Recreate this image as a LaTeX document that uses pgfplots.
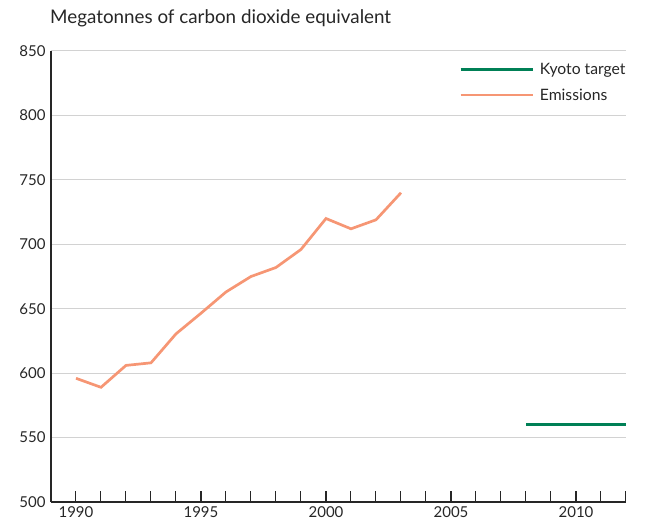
\documentclass[border=0pt]{standalone}
\usepackage{pgfplots}
\pgfplotsset{compat=1.18}
\usepackage{fontspec}
\setmainfont{Lato}
\definecolor{emis}{RGB}{246,150,116}
\definecolor{kyoto}{RGB}{0,128,86}
\definecolor{gridc}{RGB}{210,210,210}
\begin{document}
\begin{tikzpicture}[x=1pt,y=1pt]
\path[use as bounding box] (-51,-25) rectangle (614,502);
\begin{axis}[
  at={(0,0)}, anchor=south west,
  scale only axis, width=575pt, height=451pt,
  xmin=1989, xmax=2012, ymin=500, ymax=850,
  axis x line=bottom, axis y line=left,
  axis line style={line width=1.5pt, black!85, -},
  xtick={1990,1995,...,2010},
  minor xtick={1990,...,2012},
  xtick style={line width=1pt, black!85},
  minor tick length=11pt, major tick length=11pt,
  tick align=inside,
  x tick label style={yshift=-1pt},
  ytick={500,550,...,850},
  ytick style={draw=none},
  ymajorgrids, grid style={gridc, line width=1pt},
  y tick label style={xshift=-2pt},
  /pgf/number format/assume math mode=true,
  /pgf/number format/1000 sep={},
  tick label style={font=\fontsize{15}{17}\selectfont, black!85},
  legend style={at={(1.003,0.983)}, anchor=north east, draw=none, fill=none,
    font=\fontsize{15.7}{18}\selectfont, row sep=9pt, text=black!85,
    inner xsep=0pt},
  legend cell align=left,
  legend image code/.code={\draw[#1, line width=2.7pt] (0pt,0pt) -- (72pt,0pt); \path (76pt,0pt);},
]
\addplot[kyoto, line width=2.7pt] coordinates {(2008,560) (2012,560)};
\addlegendentry{Kyoto target}
\addplot[emis, line width=2.7pt] coordinates {
(1990,596) (1991,589) (1992,606) (1993,608) (1994,630.5) (1995,646.5)
(1996,663) (1997,675) (1998,682) (1999,696) (2000,720) (2001,712)
(2002,719) (2003,740)};
\addlegendentry{Emissions}
\end{axis}
\node[anchor=base west, inner sep=0pt, text=black!85, font=\fontsize{18.8}{21}\selectfont] at (-1,478) {Megatonnes of carbon dioxide equivalent};
\end{tikzpicture}
\end{document}
